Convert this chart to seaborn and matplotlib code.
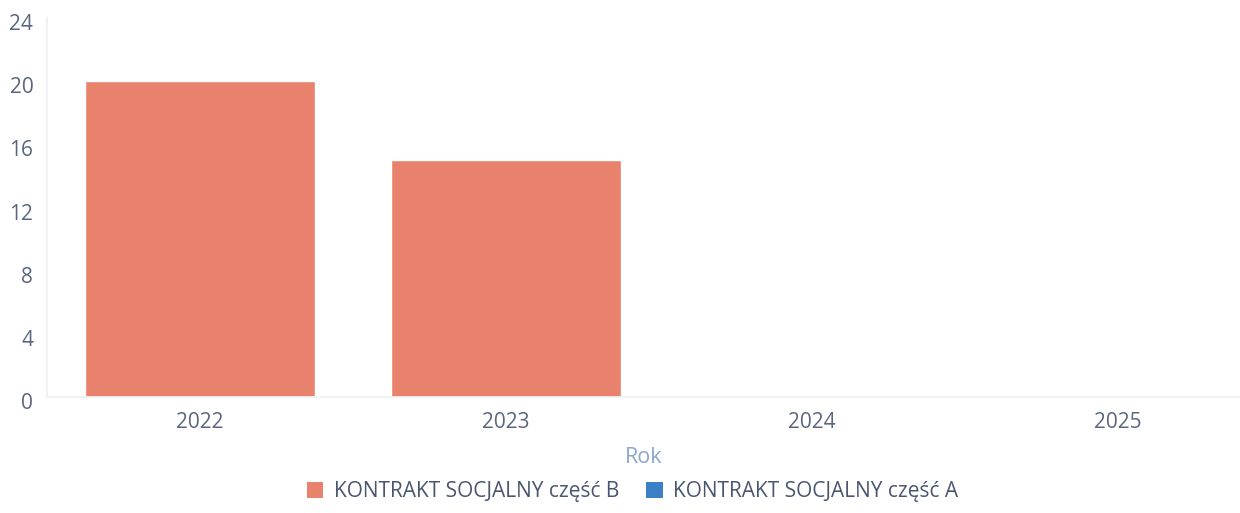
import matplotlib
matplotlib.use("Agg")
import matplotlib.pyplot as plt
import matplotlib.transforms as mtransforms
import seaborn as sns
import pandas as pd
from matplotlib.patches import Patch

# data
years = ["2022", "2023", "2024", "2025"]
part_b = [20, 15, 0, 0]
part_a = [0, 0, 0, 0]
series_names = ["KONTRAKT SOCJALNY część B", "KONTRAKT SOCJALNY część A"]
colors = ["#e9826d", "#3b7fc4"]

df = pd.DataFrame({
    "Rok": years * 2,
    "value": part_b + part_a,
    "series": [series_names[0]] * 4 + [series_names[1]] * 4,
})

sns.set_theme(style="white")
plt.rcParams["font.family"] = ["Open Sans", "DejaVu Sans"]

fig = plt.figure(figsize=(12.4, 5.13), dpi=100)
ax = fig.add_axes([47 / 1240, (513 - 397) / 513, (1240 - 47) / 1240, (397 - 18) / 513])

sns.barplot(data=df, x="Rok", y="value", hue="series", dodge=False,
            palette=dict(zip(series_names, colors)), width=0.75,
            ax=ax, legend=False, saturation=1)

ax.set_xlim(-0.5, 3.4)
ax.set_ylim(0, 24)
ax.set_yticks(range(0, 25, 4))

tick_col = "#5a6680"
ax.tick_params(axis="both", colors=tick_col, labelsize=15, length=0)
ax.tick_params(axis="x", pad=11)
ax.tick_params(axis="y", pad=12)

# y labels sit a little below their value in the original
shift = mtransforms.ScaledTranslation(3 / 100, -4 / 100, fig.dpi_scale_trans)
for lab in ax.get_yticklabels():
    lab.set_transform(lab.get_transform() + shift)

for s in ["top", "right"]:
    ax.spines[s].set_visible(False)
ax.spines["left"].set_color("#eef0f4")
ax.spines["bottom"].set_color("#eef0f4")

ax.set_ylabel("")
ax.set_xlabel("Rok", color="#8ba5cc", fontsize=15.5, labelpad=10)

handles = [Patch(facecolor=c, edgecolor="none") for c in colors]
fig.legend(handles, series_names, loc="center", bbox_to_anchor=(0.51, 1 - 492 / 513),
           ncol=2, frameon=False, fontsize=15, handlelength=0.8, handleheight=0.8,
           handletextpad=0.5, columnspacing=1.3, labelcolor="#4a5670")

fig.savefig("out.png", dpi=100)
